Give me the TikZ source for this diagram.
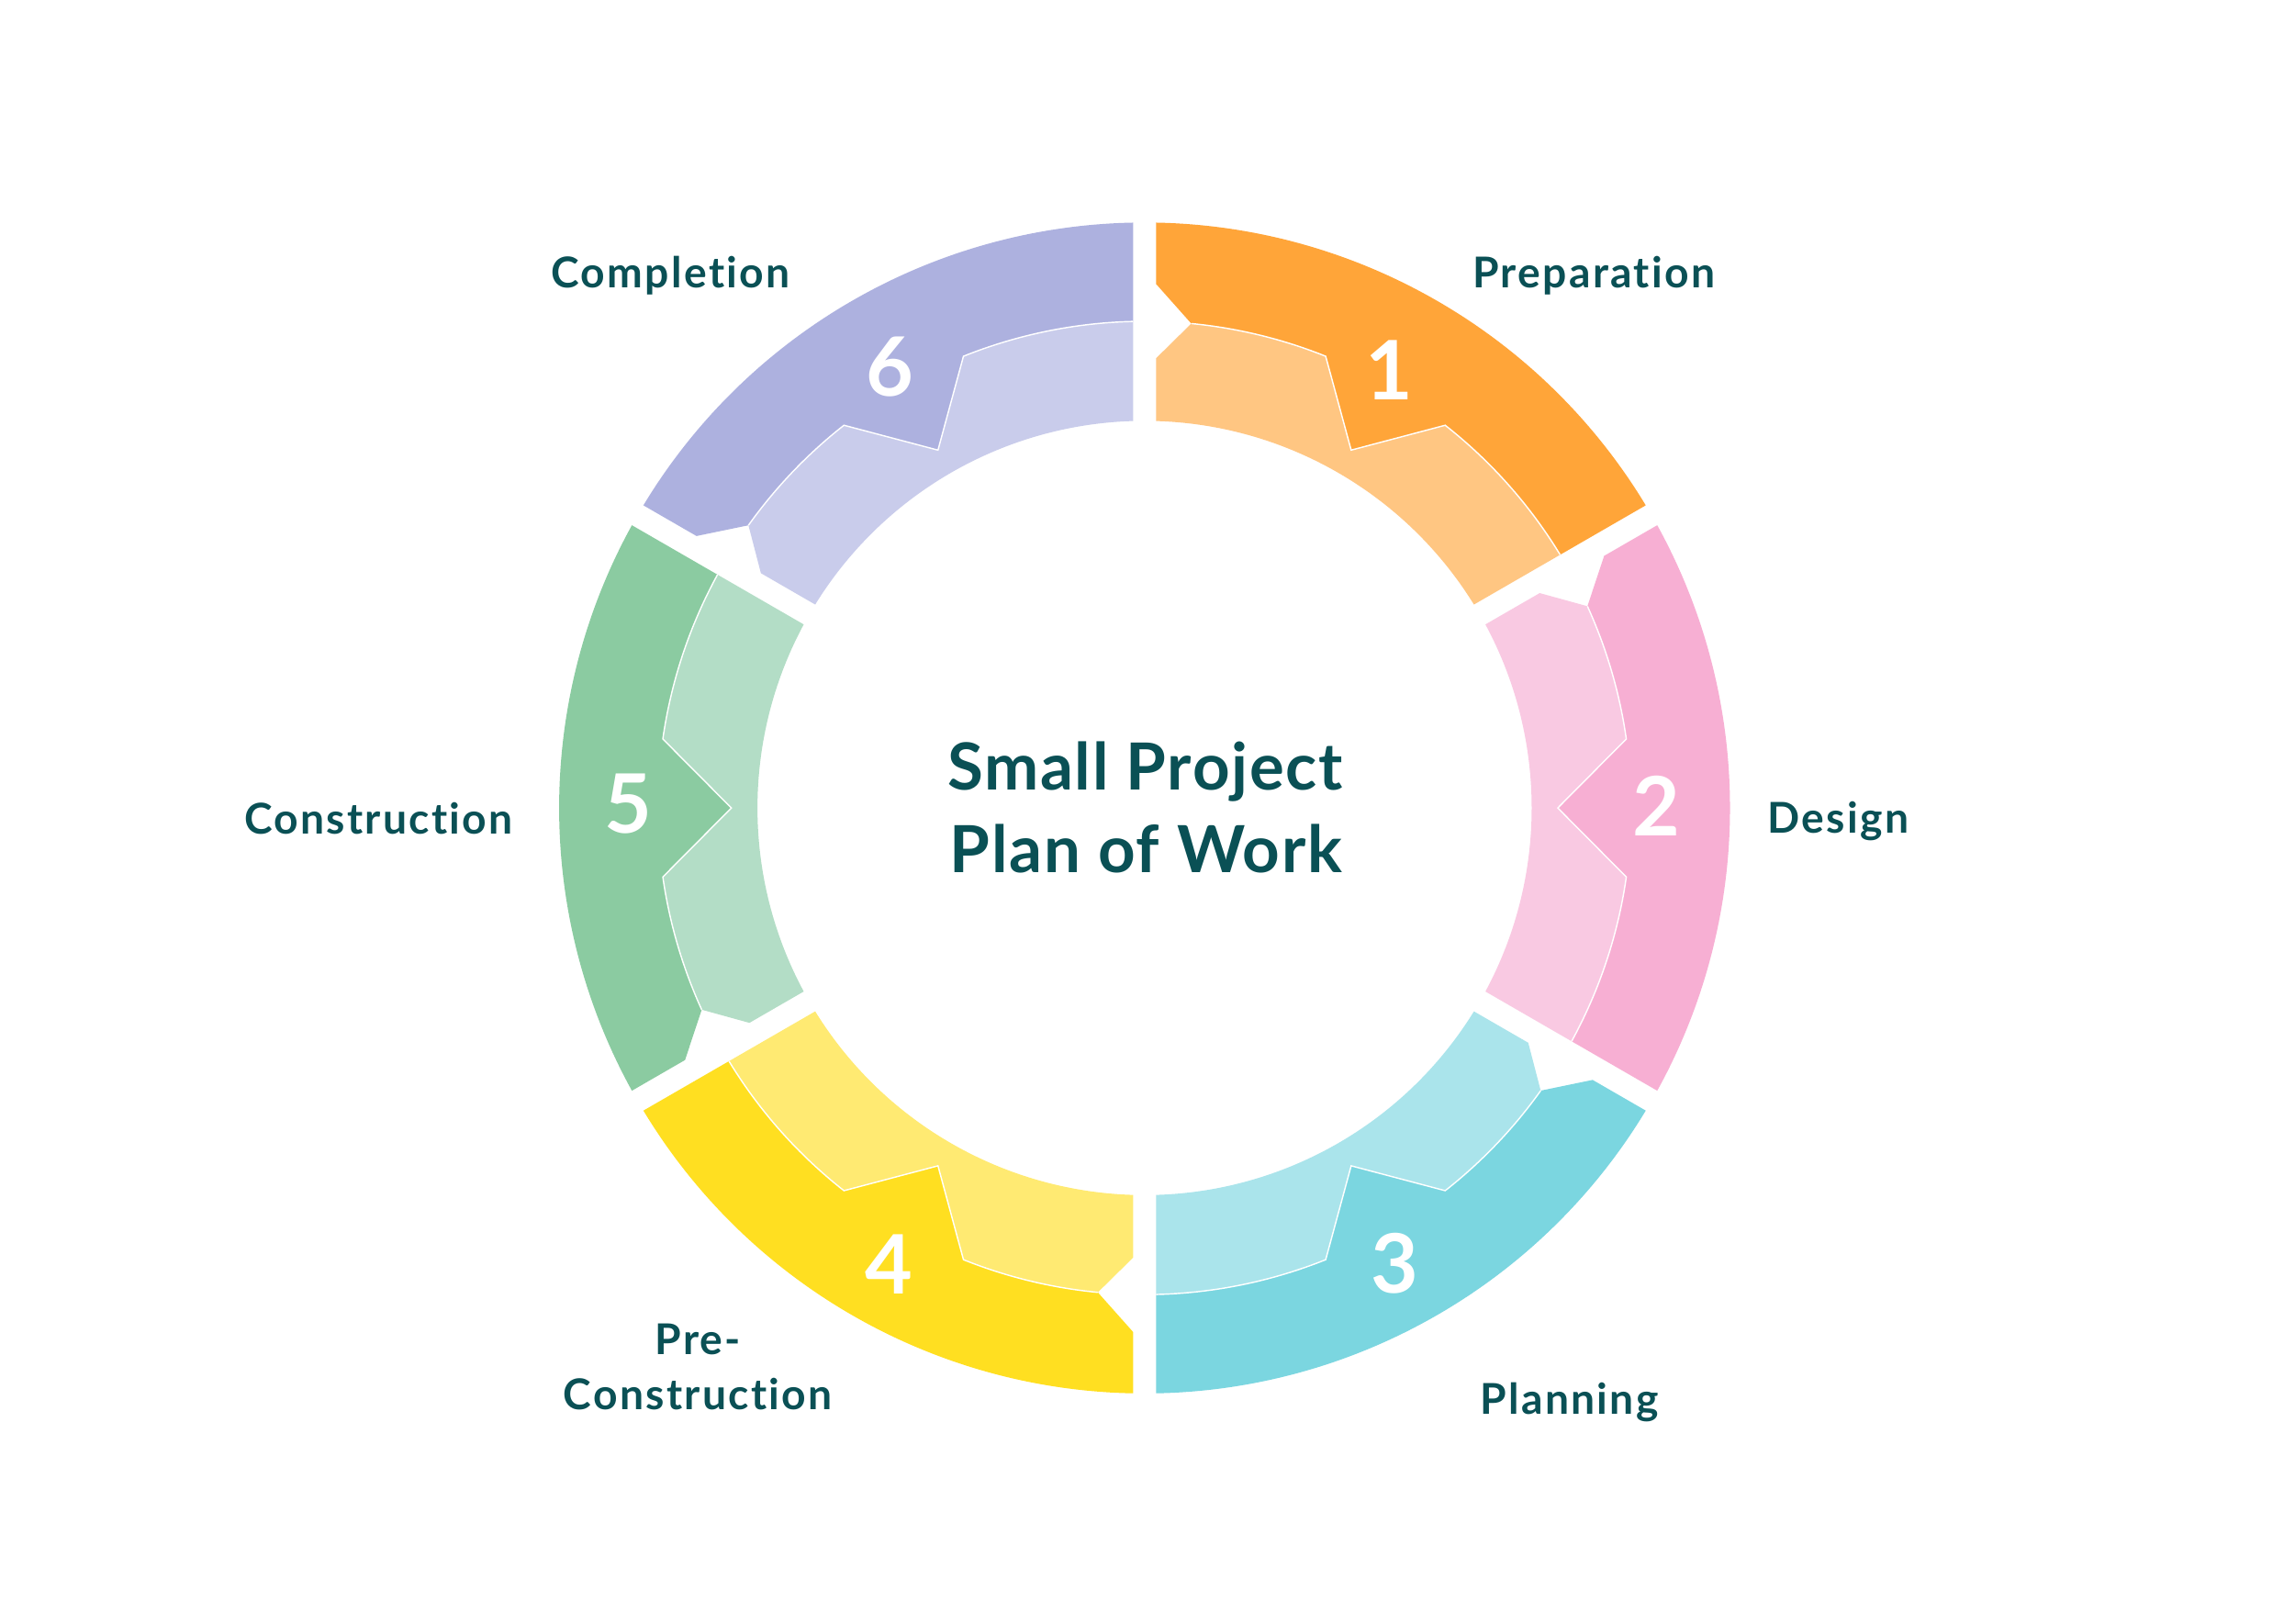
\documentclass[tikz,border=0pt]{standalone}
\usepackage{fontspec}
\setmainfont{Lato}[Ligatures={NoCommon,NoRare,NoContextual}]
\definecolor{d1}{HTML}{FFA539}\definecolor{l1}{HTML}{FFC682}
\definecolor{d2}{HTML}{F7AFD3}\definecolor{l2}{HTML}{F9C9E2}
\definecolor{d3}{HTML}{7BD6E0}\definecolor{l3}{HTML}{AAE4EB}
\definecolor{d4}{HTML}{FFDF21}\definecolor{l4}{HTML}{FFEA72}
\definecolor{d5}{HTML}{8BCBA1}\definecolor{l5}{HTML}{B3DDC6}
\definecolor{d6}{HTML}{ADB1DF}\definecolor{l6}{HTML}{C9CCEB}
\definecolor{ink}{HTML}{0A5055}
\begin{document}
\begin{tikzpicture}[x=1pt,y=1pt,
  lab/.style={text=ink,font=\fontsize{29}{35}\selectfont\bfseries\addfontfeature{LetterSpace=5},inner sep=0pt,anchor=base},
  ttl/.style={text=ink,font=\fontsize{44.4}{50}\selectfont\bfseries\addfontfeature{LetterSpace=2.5},inner sep=0pt,anchor=base},
  num/.style={text=white,font=\fontsize{56}{60}\selectfont\bfseries,inner sep=0pt},
  seam/.style={draw=white,line width=0.9pt,line join=miter}]
\useasboundingbox (-782,-557) rectangle (786,552);
\fill[white] (-782,-557) rectangle (786,552);
\foreach \k/\rot in {1/0,2/-60,3/-120,4/-180,5/-240,6/-300}{
 \begin{scope}[rotate=\rot]
  \fill[d\k] (88.875:400pt) -- (7.85,358) -- (84.486:332.5pt)
     arc[start angle=84.486,end angle=68.15,radius=332.5pt] -- (60:282.3pt) -- (51.85:332.5pt)
     arc[start angle=51.85,end angle=31.353,radius=332.5pt] -- (31.125:400pt)
     arc[start angle=31.125,end angle=88.875,radius=400pt] -- cycle;
  \fill[l\k] (88.299:264.5pt) -- (7.85,307.2) -- (84.486:332.5pt)
     arc[start angle=84.486,end angle=68.15,radius=332.5pt] -- (60:282.3pt) -- (51.85:332.5pt)
     arc[start angle=51.85,end angle=31.353,radius=332.5pt] -- (31.701:264.5pt)
     arc[start angle=31.701,end angle=88.299,radius=264.5pt] -- cycle;
  \draw[seam] (84.486:332.5pt)
     arc[start angle=84.486,end angle=68.15,radius=332.5pt] -- (60:282.3pt) -- (51.85:332.5pt)
     arc[start angle=51.85,end angle=31.353,radius=332.5pt];
 \end{scope}}
\node[num] (n1) at (167.2,299) {1};
\node[num] (n2) at (350,1.3) {2};
\node[num] (n3) at (171.2,-311.4) {3};
\node[num] (n4) at (-174.4,-311.5) {4};
\node[num] (n5) at (-352.9,2.7) {5};
\node[num] (n6) at (-173.9,301.4) {6};
\node[lab] (prep) at (307,355.5) {Preparation};
\node[lab] (design) at (473.8,-16.9) {Design};
\node[lab] (plan) at (290.3,-413.9) {Planning};
\node[lab] (pre1) at (-305.1,-373.5) {Pre-};
\node[lab] (pre2) at (-305.1,-411.2) {Construction};
\node[lab] (cons) at (-523.3,-17.7) {Construction};
\node[lab] (comp) at (-323.8,355.5) {Completion};
\node[ttl] (t1) at (0.5,12.6) {Small Project};
\node[ttl] (t2) at (1,-44.3) {Plan of Work};
\end{tikzpicture}
\end{document}
